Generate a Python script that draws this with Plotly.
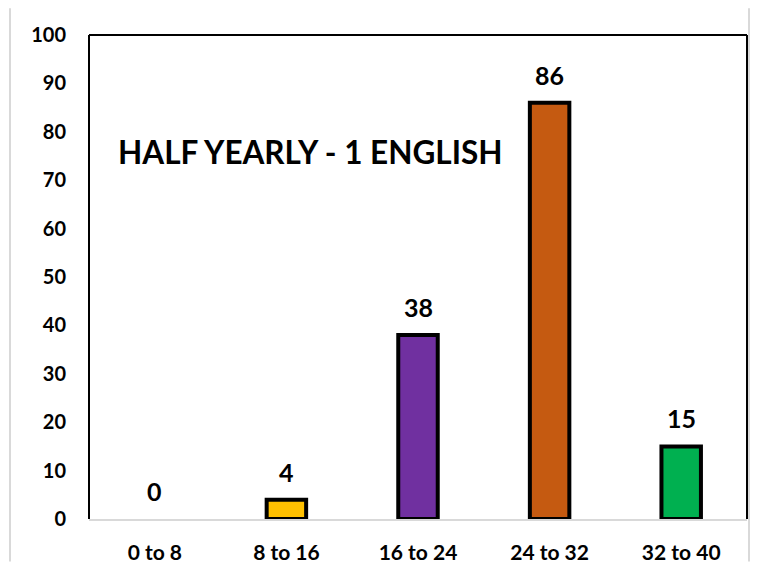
import plotly.graph_objects as go

categories = ["0 to 8", "8 to 16", "16 to 24", "24 to 32", "32 to 40"]
values = [0, 4, 38, 86, 15]
colors = ["#FFC000", "#FFC000", "#7030A0", "#C55A11", "#00B050"]
title_text = "HALF YEARLY - 1 ENGLISH"
y_ticks = [0, 10, 20, 30, 40, 50, 60, 70, 80, 90, 100]

FONT = "Lato, Open Sans, sans-serif"

# page has an 8px body margin; the figure is sized to fit inside the 758x575 window
W, H = 742, 559
L, R, T, B = 81, 3, 27, 43
pw, ph = W - L - R, H - T - B

fig = go.Figure()
fig.add_trace(go.Bar(
    x=categories, y=values,
    marker=dict(color=colors,
                line=dict(color="black", width=[4 if v > 0 else 0 for v in values])),
    width=0.3,
    hoverinfo="skip",
))

for c, v in zip(categories, values):
    fig.add_annotation(x=c, y=v, text="<b>%d</b>" % v, showarrow=False,
                       yshift=28, font=dict(family=FONT, size=25, color="black"))

fig.add_annotation(xref="paper", yref="paper", x=(108 - L) / pw, y=(H - B - 145) / ph,
                   xanchor="left", yanchor="middle", text="<b>%s</b>" % title_text,
                   showarrow=False, font=dict(family=FONT, size=31.5, color="black"))

def px(x):
    return (x - L) / pw

def py(y):
    return (H - B - y) / ph

# outer border (left and right edges visible)
for xx in (2, 741):
    fig.add_shape(type="line", xref="paper", yref="paper",
                  x0=px(xx), x1=px(xx), y0=py(0), y1=py(H),
                  line=dict(color="#D9D9D9", width=2), layer="below")
# plot border: left, top, right
for (x0, y0, x1, y1) in [(0, 0, 0, 1), (0, 1, 1, 1), (1, 0, 1, 1)]:
    fig.add_shape(type="line", xref="paper", yref="paper", x0=x0, y0=y0, x1=x1, y1=y1,
                  line=dict(color="black", width=2))

fig.update_layout(
    width=W, height=H,
    margin=dict(l=L, r=R, t=T, b=B),
    plot_bgcolor="white", paper_bgcolor="white",
    showlegend=False,
    font=dict(family=FONT, size=16, color="black"),
    xaxis=dict(showgrid=False, showline=True, linecolor="#D9D9D9", linewidth=2,
               ticks="", ticklabelstandoff=14,
               tickfont=dict(family=FONT, size=21, color="black", weight="bold")),
    yaxis=dict(range=[0, 100], tickvals=y_ticks, showgrid=False, zeroline=False,
               showline=False, ticks="", ticklabelstandoff=22,
               tickfont=dict(family=FONT, size=20, color="black", weight="bold")),
)

fig.write_html("out.html")
